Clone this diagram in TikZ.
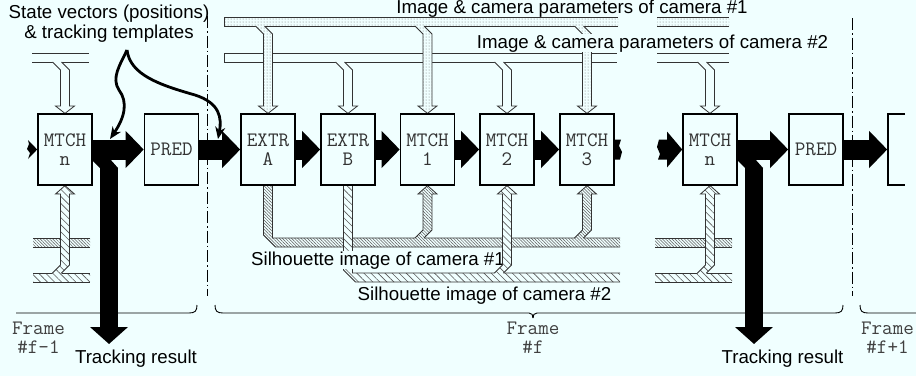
\documentclass[tikz,border=0pt]{standalone}
\usepackage{fontspec}
\setmainfont{Liberation Sans}
\usetikzlibrary{arrows.meta,patterns.meta}
\definecolor{bg}{RGB}{240,255,255}
\tikzset{
  box/.style={draw, line width=1.6pt, fill=bg, minimum width=54pt, minimum height=71pt, inner sep=0pt, align=center, font=\ttfamily\fontsize{20.5}{19}\selectfont, text=black!80},
  fat/.style={line width=20pt, -{Triangle[length=18pt,width=36pt]}},
  fatdown/.style={line width=18pt, -{Triangle[length=17pt,width=37pt]}},
  lbl/.style={font=\fontsize{18.7}{21}\selectfont, inner sep=0.3pt, anchor=base},
  lblbg/.style={lbl, fill=bg},
  monolbl/.style={font=\ttfamily\fontsize{20.5}{19}\selectfont, text=black!75, inner sep=0pt, anchor=north, align=center},
  pipeline/.style={draw=black!80, line width=0.8pt},
  plain/.style={},
  dotfill/.style={pattern={Dots[distance=3pt,radius=0.5pt]}, pattern color=black!55},
  hatchA/.style={pattern={Lines[angle=-45,distance=2.2pt,line width=0.5pt]}, pattern color=black!65},
  hatchB/.style={pattern={Lines[angle=-45,distance=5pt,line width=0.6pt]}, pattern color=black!65},
  framesep/.style={line width=1pt, dash pattern=on 12pt off 3pt on 1.5pt off 3pt},
  bracel/.style={line width=0.9pt},
  pointer/.style={line width=2.8pt, -{Stealth[length=12pt,width=10pt]}},
}
% bus segment: x1, x2, ytop, ybot, fill style
\newcommand{\mybus}[5]{%
  \path[fill=bg, postaction={#5}] (#1,#3) rectangle (#2,#4);
  \draw[pipeline] (#1,#3) -- (#2,#3) (#1,#4) -- (#2,#4);}
% pipe from a bus down to a box top: cx, bus bottom y, fill style
\newcommand{\pipedown}[3]{%
  \path[fill=bg, postaction={#3}] ({#1-12.5},{#2-1.2}) -- ({#1-12.5},#2) -- ({#1-4.5},{#2+8}) -- ({#1-4.5},106) -- ({#1-9.5},106) -- (#1,113.4) -- ({#1+9.5},106) -- ({#1+4.5},106) -- ({#1+4.5},{#2+8}) -- ({#1-3.5},#2) -- ({#1-3.5},{#2-1.2}) -- cycle;
  \draw[pipeline] ({#1-12.5},#2) -- ({#1-4.5},{#2+8}) -- ({#1-4.5},106) -- ({#1-9.5},106) -- (#1,113.4) -- ({#1+9.5},106) -- ({#1+4.5},106) -- ({#1+4.5},{#2+8}) -- ({#1-3.5},#2);}
% pipe from a bus up to a box bottom: cx, bus top y, fill style
\newcommand{\pipeup}[3]{%
  \path[fill=bg, postaction={#3}] ({#1-12.5},{#2+1.2}) -- ({#1-12.5},#2) -- ({#1-4.5},{#2-8}) -- ({#1-4.5},194) -- ({#1-9.5},194) -- (#1,185.6) -- ({#1+9.5},194) -- ({#1+4.5},194) -- ({#1+4.5},{#2-8}) -- ({#1-3.5},#2) -- ({#1-3.5},{#2+1.2}) -- cycle;
  \draw[pipeline] ({#1-12.5},#2) -- ({#1-4.5},{#2-8}) -- ({#1-4.5},194) -- ({#1-9.5},194) -- (#1,185.6) -- ({#1+9.5},194) -- ({#1+4.5},194) -- ({#1+4.5},{#2-8}) -- ({#1-3.5},#2);}
\begin{document}
\begin{tikzpicture}[x=1pt,y=-1pt]
\useasboundingbox (0,0) rectangle (916,376);
\fill[bg] (0,0) rectangle (916,376);

% frame separators
\draw[framesep] (207,16) -- (207,296);
\draw[framesep] (852,18) -- (852,296);

% top buses
\mybus{224}{618}{17}{26}{dotfill}
\draw[pipeline] (224,17) -- (224,26);
\mybus{657}{729}{17}{26}{dotfill}
\mybus{224}{617}{53}{62}{plain}
\draw[pipeline] (224,53) -- (224,62);
\mybus{32}{89}{53}{62}{plain}
\mybus{657}{729}{53}{62}{plain}

% top branches
\pipedown{65}{62}{plain}
\pipedown{348}{62}{plain}
\pipedown{507}{62}{plain}
\pipedown{710}{62}{plain}
\pipedown{268}{26}{dotfill}
\pipedown{427.5}{26}{dotfill}
\pipedown{587}{26}{dotfill}

\node[lblbg] (cam1) at (572,13) {Image \& camera parameters of camera \#1};
\node[lblbg] (cam2) at (652.5,48) {Image \& camera parameters of camera \#2};

% bottom buses
\mybus{33}{90}{238}{247}{hatchA}
\mybus{33}{90}{273}{282}{hatchB}
\mybus{655}{732}{238}{247}{hatchA}
\mybus{655}{732}{273}{282}{hatchB}
\path[fill=bg, postaction={hatchA}] (263.5,185) -- (263.5,235) -- (275.5,247) -- (620,247) -- (620,238) -- (272.5,238) -- (272.5,185) -- cycle;
\draw[pipeline] (272.5,185) -- (272.5,238) -- (620,238) (263.5,185) -- (263.5,235) -- (275.5,247) -- (620,247);
\path[fill=bg, postaction={hatchB}] (343.5,185) -- (343.5,270) -- (355.5,282) -- (620,282) -- (620,273) -- (352.5,273) -- (352.5,185) -- cycle;
\draw[pipeline] (352.5,185) -- (352.5,273) -- (620,273) (343.5,185) -- (343.5,270) -- (355.5,282) -- (620,282);

\node[lblbg] (sil1) at (378,265) {Silhouette image of camera \#1};

% bottom branches
\pipeup{427.5}{238}{hatchA}
\pipeup{587}{238}{hatchA}
\pipeup{507}{273}{hatchB}
\pipeup{65}{273}{hatchB}
\pipeup{710}{273}{hatchB}

\node[lbl] (sil2) at (484.5,300) {Silhouette image of camera \#2};

% boxes
\node[box] (mtchnL) at (65,149.5) {MTCH\\n};
\node[box] (predL) at (171.5,149.5) {PRED};
\node[box] (extrA) at (268,149.5) {EXTR\\A};
\node[box] (extrB) at (348,149.5) {EXTR\\B};
\node[box] (mtch1) at (427.5,149.5) {MTCH\\1};
\node[box] (mtch2) at (507,149.5) {MTCH\\2};
\node[box] (mtch3) at (587,149.5) {MTCH\\3};
\node[box] (mtchnR) at (710,149.5) {MTCH\\n};
\node[box] (predR) at (816,149.5) {PRED};
\draw[line width=1.6pt] (905,114) -- (888,114) -- (888,185) -- (905,185);
\coordinate (nextbox) at (887.2,149.5);

% fat data-flow arrows
\draw[fat] (mtchnL.east) -- (predL.west);
\draw[fat] (predL.east) -- (extrA.west);
\draw[fat] (extrA.east) -- (extrB.west);
\draw[fat] (extrB.east) -- (mtch1.west);
\draw[fat] (mtch1.east) -- (mtch2.west);
\draw[fat] (mtch2.east) -- (mtch3.west);
\draw[fat] (mtchnR.east) -- (predR.west);
\draw[fat] (predR.east) -- (nextbox);
% torn stubs
\fill (28,140) -- (mtchnL.west) -- (28,159) -- (30,153) -- (27,149) -- (29,144) -- cycle;
\fill (614,139.5) -- (621,139.5) -- (619,146) -- (622,152) -- (620,159.5) -- (614,159.5) -- cycle;
\fill (659,139.5) -- (667,139.5) -- (667,131.5) -- (mtchnR.west) -- (667,167.5) -- (667,159.5) -- (658,159.5) -- (660,154) -- (657,147) -- cycle;
% tracking result branches
\fill (91,159) -- (110,159) -- (118,168) -- (100,168) -- cycle;
\coordinate (brL) at (109,167.5);
\coordinate (trackL) at (109,344);
\draw[fatdown] (brL) -- (trackL);
\fill (736,159) -- (755,159) -- (763,168) -- (745,168) -- cycle;
\coordinate (brR) at (754,167.5);
\coordinate (trackR) at (754,344);
\draw[fatdown] (brR) -- (trackR);
\node[lbl] (trL) at (136,363) {Tracking result};
\node[lbl] (trR) at (782.5,363) {Tracking result};

% braces
\draw[bracel] (16,313) -- (189,313) .. controls (195,313) and (197,311) .. (197,305);
\draw[bracel] (215,305) .. controls (215,311) and (217,313) .. (223,313) -- (529,313) .. controls (532,313) and (533,315) .. (533,318);
\draw[bracel] (533,318) .. controls (533,315) and (534,313) .. (537,313) -- (835,313) .. controls (841,313) and (843,311) .. (843,305);
\draw[bracel] (860,305) .. controls (860,311) and (862,313) .. (868,313) -- (916,313);

% frame labels
\node[monolbl] (fl) at (38.5,321.5) {Frame\\\#f-1};
\node[monolbl] (fm) at (533,321.5) {Frame\\\#f};
\node[monolbl] (fr) at (887.5,321.5) {Frame\\\#f+1};

% state vector labels and pointers
\node[lbl] (sv1) at (109,18) {State vectors (positions)};
\node[lbl] (sv2) at (109,38) {\& tracking templates};
\coordinate (svfork) at (127,50);
\coordinate (tip1) at (110,139);
\coordinate (tip2) at (218,139);
\draw[pointer] (svfork) .. controls (120,65) and (111,78) .. (119,90) .. controls (128,102) and (125,117) .. (tip1);
\draw[pointer] (svfork) .. controls (130,75) and (160,85) .. (195,95) .. controls (220,103) and (222,118) .. (tip2);
\end{tikzpicture}
\end{document}
